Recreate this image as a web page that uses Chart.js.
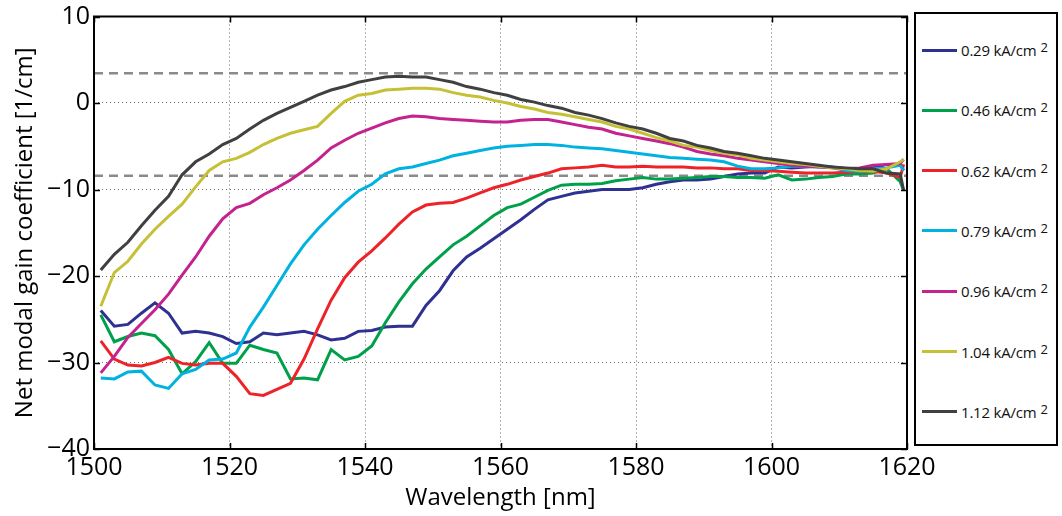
<!DOCTYPE html>
<html>
<head>
<meta charset="utf-8">
<script src="https://cdn.jsdelivr.net/npm/chart.js@4/dist/chart.umd.min.js"></script>
<style>
  html, body { margin: 0; padding: 0; background: #fff; }
  #wrap { position: relative; width: 1062px; height: 516px; overflow: hidden; }
  #chart { position: absolute; left: 0; top: 0; }
  #legend {
    position: absolute; left: 914px; top: 12px; width: 140px; height: 430px;
    border: 2px solid #000; background: #fff;
    font-family: "Open Sans", "DejaVu Sans", sans-serif; font-size: 15px; color: #111;
  }
  .item { position: absolute; left: 6px; height: 20px; display: flex; align-items: center; white-space: nowrap; letter-spacing: -0.2px; }
  .swatch { width: 35px; height: 3px; margin-right: 4px; }
  .item sup { font-size: 13px; position: relative; top: -3px; margin-left: 4px; }
</style>
</head>
<body>
<div id="wrap">
  <canvas id="chart" width="1062" height="516"></canvas>
  <div id="legend"></div>
</div>
<script>
/* ---------- data ---------- */
const wavelengths = [
  1501, 1503, 1505, 1507, 1509, 1511, 1513, 1515, 1517, 1519,
  1521, 1523, 1525, 1527, 1529, 1531, 1533, 1535, 1537, 1539,
  1541, 1543, 1545, 1547, 1549, 1551, 1553, 1555, 1557, 1559,
  1561, 1563, 1565, 1567, 1569, 1571, 1573, 1575, 1577, 1579,
  1581, 1583, 1585, 1587, 1589, 1591, 1593, 1595, 1597, 1599,
  1601, 1603, 1605, 1607, 1609, 1611, 1613, 1615, 1617, 1619, 1619.5
];

const gain029 = [
  -24.0, -25.8, -25.6, -24.3, -23.1, -24.3, -26.6, -26.4, -26.6, -27.0,
  -27.8, -27.6, -26.6, -26.8, -26.6, -26.4, -26.8, -27.4, -27.2, -26.4,
  -26.3, -25.9, -25.8, -25.8, -23.4, -21.7, -19.4, -17.8, -16.8, -15.7,
  -14.6, -13.5, -12.3, -11.2, -10.8, -10.4, -10.2, -10.0, -10.0, -10.0,
  -9.8, -9.4, -9.1, -8.9, -8.9, -8.8, -8.5, -8.2, -8.1, -8.1,
  -7.4, -7.5, -7.4, -7.3, -7.4, -7.6, -7.8, -7.5, -7.1, -7.1, -7.8
];
const gain046 = [
  -24.5, -27.6, -27.0, -26.6, -26.9, -28.5, -31.3, -29.9, -27.7, -30.1,
  -30.1, -28.0, -28.5, -28.9, -31.9, -31.8, -32.0, -28.5, -29.7, -29.3,
  -28.1, -25.4, -23.0, -20.9, -19.2, -17.8, -16.4, -15.4, -14.2, -13.0,
  -12.1, -11.7, -10.9, -10.1, -9.5, -9.4, -9.4, -9.3, -9.0, -8.8,
  -8.6, -8.8, -8.8, -8.7, -8.6, -8.5, -8.5, -8.6, -8.6, -8.7,
  -8.3, -8.9, -8.8, -8.6, -8.5, -8.2, -8.2, -8.1, -7.6, -9.1, -10.1
];
const gain062 = [
  -27.5, -29.6, -30.3, -30.4, -30.0, -29.4, -30.1, -30.3, -30.1, -30.1,
  -31.6, -33.6, -33.8, -33.1, -32.4, -29.6, -26.1, -22.8, -20.2, -18.4,
  -17.1, -15.6, -14.0, -12.6, -11.8, -11.6, -11.5, -11.0, -10.4, -9.8,
  -9.4, -8.9, -8.5, -8.1, -7.6, -7.5, -7.4, -7.2, -7.4, -7.4,
  -7.3, -7.4, -7.4, -7.4, -7.5, -7.5, -7.6, -7.6, -7.8, -7.8,
  -7.9, -8.0, -8.1, -8.1, -8.1, -8.0, -7.9, -7.9, -8.1, -8.6, -7.1
];
const gain079 = [
  -31.8, -31.9, -31.1, -31.0, -32.6, -33.0, -31.3, -30.8, -29.7, -29.6,
  -28.9, -25.9, -23.6, -21.1, -18.6, -16.4, -14.6, -13.0, -11.5, -10.2,
  -9.4, -8.2, -7.6, -7.4, -7.0, -6.6, -6.1, -5.8, -5.5, -5.2,
  -5.0, -4.9, -4.8, -4.8, -4.9, -5.1, -5.2, -5.3, -5.5, -5.7,
  -5.9, -6.1, -6.3, -6.4, -6.5, -6.6, -6.8, -7.3, -7.6, -7.6,
  -7.5, -7.3, -7.3, -7.4, -7.5, -7.8, -7.9, -7.6, -7.5, -7.2, -7.8
];
const gain096 = [
  -31.2, -29.3, -27.1, -25.5, -23.9, -22.1, -19.9, -17.8, -15.4, -13.4,
  -12.1, -11.6, -10.6, -9.8, -8.9, -7.8, -6.6, -5.2, -4.3, -3.5,
  -2.9, -2.3, -1.8, -1.5, -1.6, -1.8, -1.9, -2.0, -2.1, -2.2,
  -2.2, -2.0, -1.9, -1.9, -2.2, -2.5, -2.8, -3.0, -3.5, -3.8,
  -4.1, -4.4, -4.7, -5.1, -5.6, -5.9, -6.1, -6.4, -6.6, -6.8,
  -7.0, -7.2, -7.3, -7.4, -7.5, -7.6, -7.5, -7.2, -7.1, -7.0, -6.5
];
const gain104 = [
  -23.5, -19.6, -18.3, -16.3, -14.6, -13.1, -11.7, -9.7, -7.8, -6.8,
  -6.4, -5.7, -4.8, -4.1, -3.5, -3.1, -2.7, -1.2, 0.2, 0.9,
  1.1, 1.5, 1.6, 1.7, 1.7, 1.6, 1.2, 0.9, 0.7, 0.3,
  0.0, -0.4, -0.7, -1.1, -1.3, -1.6, -1.9, -2.2, -2.7, -3.0,
  -3.5, -4.0, -4.4, -4.9, -5.1, -5.5, -5.8, -6.0, -6.4, -6.6,
  -6.8, -7.0, -7.1, -7.3, -7.5, -7.6, -7.8, -7.9, -7.6, -6.8, -6.5
];
const gain112 = [
  -19.3, -17.5, -16.1, -14.2, -12.4, -10.8, -8.3, -6.8, -5.9, -4.8,
  -4.1, -3.0, -2.0, -1.2, -0.5, 0.2, 0.9, 1.5, 1.9, 2.4,
  2.7, 3.0, 3.1, 3.0, 3.0, 2.7, 2.4, 1.9, 1.6, 1.2,
  0.9, 0.4, 0.1, -0.3, -0.6, -1.1, -1.4, -1.8, -2.3, -2.7,
  -3.0, -3.5, -4.1, -4.4, -4.9, -5.2, -5.6, -5.8, -6.1, -6.4,
  -6.6, -6.8, -7.0, -7.2, -7.4, -7.5, -7.6, -7.6, -8.1, -8.2, -10.1
];

// dashed reference levels
const refUpper = [3.45, 3.45];
const refLower = [-8.4, -8.4];
const refRange = [1500, 1620];

const seriesLabels = ["0.29 kA/cm", "0.46 kA/cm", "0.62 kA/cm", "0.79 kA/cm", "0.96 kA/cm", "1.04 kA/cm", "1.12 kA/cm"];
const seriesColors = ["#2e3192", "#00a04b", "#ee2329", "#00b2e0", "#c3228f", "#c6c037", "#404040"];
const seriesValues = [gain029, gain046, gain062, gain079, gain096, gain104, gain112];

const xTickValues = [1500, 1520, 1540, 1560, 1580, 1600, 1620];
const yTickValues = [-40, -30, -20, -10, 0, 10];

/* ---------- helpers ---------- */
const pairs = (xs, ys) => xs.map((x, i) => ({ x, y: ys[i] }));
const FONT = "'Open Sans', 'DejaVu Sans', sans-serif";

// frame + inward tick marks, MATLAB style
const frameTicks = {
  id: "frameTicks",
  afterDraw(chart) {
    const { ctx, chartArea: a, scales } = chart;
    ctx.save();
    ctx.strokeStyle = "#000";
    ctx.lineWidth = 1.5;
    const len = 6;
    xTickValues.forEach(v => {
      const px = Math.round(scales.x.getPixelForValue(v)) + 0.5;
      ctx.beginPath();
      ctx.moveTo(px, a.bottom); ctx.lineTo(px, a.bottom - len);
      ctx.moveTo(px, a.top); ctx.lineTo(px, a.top + len);
      ctx.stroke();
    });
    yTickValues.forEach(v => {
      const py = Math.round(scales.y.getPixelForValue(v)) + 0.5;
      ctx.beginPath();
      ctx.moveTo(a.left, py); ctx.lineTo(a.left + len, py);
      ctx.moveTo(a.right, py); ctx.lineTo(a.right - len, py);
      ctx.stroke();
    });
    ctx.lineWidth = 2;
    ctx.strokeRect(a.left, a.top, a.right - a.left, a.bottom - a.top);
    ctx.restore();
  }
};

/* ---------- chart ---------- */
const datasets = seriesValues.map((vals, i) => ({
  label: seriesLabels[i],
  data: pairs(wavelengths, vals),
  borderColor: seriesColors[i],
  borderWidth: 3,
  pointRadius: 0,
  tension: 0,
  order: seriesValues.length - i,   // later series drawn on top
}));
[refUpper, refLower].forEach(ref => {
  datasets.push({
    data: pairs(refRange, ref),
    borderColor: "#8a8a8a",
    borderWidth: 2.5,
    borderDash: [9, 6],
    pointRadius: 0,
    order: 20,
  });
});

new Chart(document.getElementById("chart"), {
  type: "line",
  data: { datasets },
  options: {
    responsive: false,
    animation: false,
    events: [],
    layout: { padding: { top: 14, right: 155, left: 0, bottom: 0 } },
    plugins: { legend: { display: false }, tooltip: { enabled: false } },
    scales: {
      x: {
        type: "linear",
        min: 1500, max: 1620,
        afterBuildTicks: s => { s.ticks = xTickValues.map(v => ({ value: v })); },
        afterFit: s => { s.height = 67; },
        ticks: {
          color: "#000", font: { family: FONT, size: 25, lineHeight: 1 }, padding: 6, maxRotation: 0,
          callback: v => String(v),
        },
        grid: { color: "#6a6a6a", lineWidth: 1, drawTicks: false },
        border: { display: false, dash: [1, 3] },
        title: { display: true, text: "Wavelength [nm]", color: "#000", font: { family: FONT, size: 24 }, padding: { top: 0, bottom: 3 } },
      },
      y: {
        min: -40, max: 10,
        afterBuildTicks: s => { s.ticks = yTickValues.map(v => ({ value: v })); },
        afterFit: s => { s.width = 94; },
        ticks: {
          color: "#000", font: { family: FONT, size: 25, lineHeight: 1 }, padding: 4,
          callback: v => String(v).replace("-", "\u2212"),
        },
        grid: { color: "#6a6a6a", lineWidth: 1, drawTicks: false },
        border: { display: false, dash: [1, 3] },
        title: { display: true, text: "Net modal gain coefficient [1/cm]", color: "#000", font: { family: FONT, size: 24 }, padding: { top: 11, bottom: 0 } },
      },
    },
  },
  plugins: [frameTicks],
});

/* ---------- legend box ---------- */
const legend = document.getElementById("legend");
seriesLabels.forEach((label, i) => {
  const item = document.createElement("div");
  item.className = "item";
  item.style.top = (26 + i * 60.3) + "px";
  item.innerHTML = `<span class="swatch" style="background:${seriesColors[i]}"></span><span>${label}</span><sup>2</sup>`;
  legend.appendChild(item);
});
</script>
</body>
</html>
